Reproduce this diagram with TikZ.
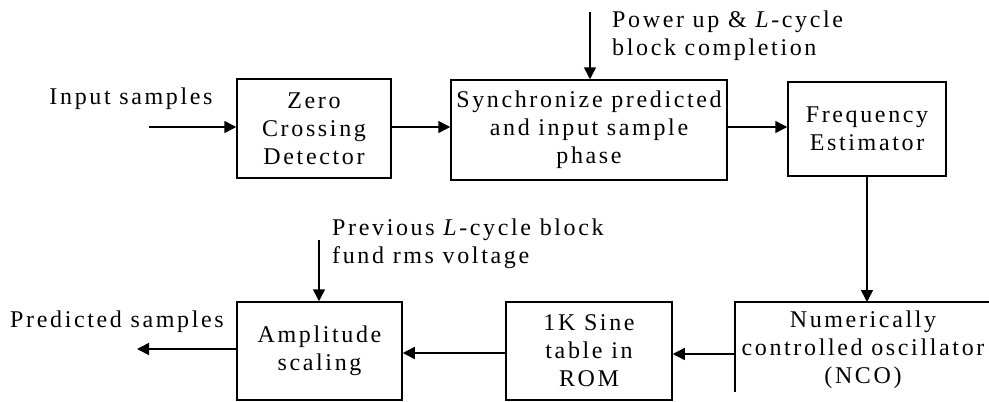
\documentclass[tikz,border=0pt]{standalone}
\usepackage{fontspec}
\setmainfont{Liberation Serif}[LetterSpace=11]
\usetikzlibrary{arrows.meta}
\begin{document}
\begin{tikzpicture}[x=1pt,y=-1pt,
  every node/.style={font=\fontsize{24}{28}\selectfont},
  blk/.style={draw,line width=1.5pt,inner sep=0pt,align=center},
  lbl/.style={inner sep=0pt,align=left},
  conn/.style={line width=1.5pt,-{Triangle[length=12pt,width=12pt]}},
  plain/.style={line width=1.5pt}]
\useasboundingbox (0,0) rectangle (989,402);
\node[blk,minimum width=154pt,minimum height=99pt] (zcd) at (314,128.5) {Zero\\Crossing\\Detector};
\node[blk,minimum width=276pt,minimum height=100pt] (sync) at (589,130) {Synchronize predicted\\and input sample\\phase};
\node[blk,minimum width=158pt,minimum height=94pt] (freq) at (867,129) {Frequency\\Estimator};
\node[blk,minimum width=165pt,minimum height=98pt] (amp) at (319.5,351) {Amplitude\\scaling};
\node[blk,minimum width=166pt,minimum height=98pt] (rom) at (589,351) {1K Sine\\table in\\ROM};
\node[inner sep=0pt,align=center] (nco) at (863,350) {Numerically\\controlled oscillator\\(NCO)};
\coordinate (ncoTL) at (735,302);
\coordinate (ncoTR) at (989,302);
\coordinate (ncoBL) at (735,392);
\coordinate (ncoIn) at (867,302);
\coordinate (ncoOut) at (735,354);
\draw[plain] (ncoTR) -- (ncoTL) -- (ncoBL);
% labels
\node[inner sep=0pt] (inlbl) at (131,99) {Input samples};
\node[inner sep=0pt] (predlbl) at (117,322) {Predicted samples};
\node[lbl,anchor=west] (pwr) at (612,36) {Power up \& \textit{L}-cycle\\block completion};
\node[lbl,anchor=west] (prev) at (332,243.5) {Previous \textit{L}-cycle block\\fund rms voltage};
% connectors
\coordinate (inS) at (149,127);
\coordinate (predE) at (137,349);
\coordinate (pwrS) at (590,12);
\coordinate (prevS) at (319,240);
\draw[conn] (inS) -- (zcd.west |- inS);
\draw[conn] (zcd.east |- inS) -- (sync.west |- inS);
\draw[conn] (sync.east |- inS) -- (freq.west |- inS);
\draw[conn] (pwrS) -- (pwrS |- sync.north);
\draw[conn] (freq.south) -- (ncoIn);
\draw[conn] (ncoOut) -- (rom.east |- ncoOut);
\draw[conn] (rom.west |- 0,353) -- (amp.east |- 0,353);
\draw[conn] (amp.west |- predE) -- (predE);
\draw[conn] (prevS) -- (prevS |- amp.north);
\end{tikzpicture}
\end{document}
